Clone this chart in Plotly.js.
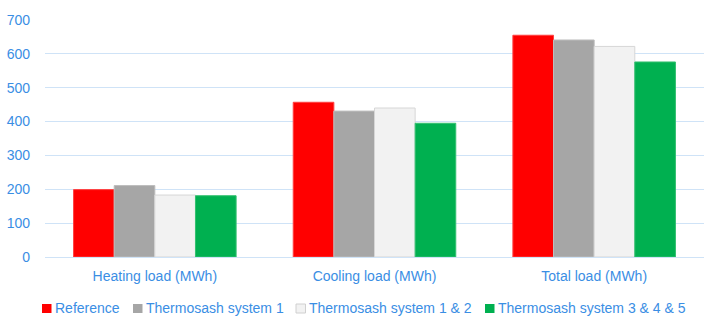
<!DOCTYPE html>
<html><head><meta charset="utf-8">
<script src="https://cdn.plot.ly/plotly-3.0.1.min.js"></script>
<style>html,body{margin:0;padding:0;background:#fff}#c{width:704px;height:318px}</style>
</head><body><div id="c"></div>
<script>
const categories = ["Heating load (MWh)", "Cooling load (MWh)", "Total load (MWh)"];
const seriesNames = ["Reference", "Thermosash system 1", "Thermosash system 1 & 2", "Thermosash system 3 & 4 & 5"];
const reference = [199, 457, 655];
const system1 = [211, 431, 641];
const system12 = [183, 440, 622];
const system345 = [181, 395, 576];
const yTicks = [0, 100, 200, 300, 400, 500, 600, 700];

const colors = ["#FF0000", "#A6A6A6", "#F2F2F2", "#00B050"];
const lineColors = ["#FF4040", "#BDBDBD", "#D6D6D6", "#33C070"];
const values = [reference, system1, system12, system345];
const traces = values.map((v, i) => ({
  type: "bar", x: categories, y: v, name: seriesNames[i], showlegend: false,
  marker: {color: colors[i], line: {color: lineColors[i], width: 1}}
}));

// plot area geometry (pixels)
const W = 704, H = 318, ML = 45, MR = 0, MT = 20, MB = 61;
const PW = W - ML - MR, PH = H - MT - MB;
const px = x => (x - ML) / PW;
const py = y => (H - MB - y) / PH;

// legend layout (pixel positions)
const legSquareX = [42, 133, 296, 485];
const legTextX = [55, 146, 309, 498];
const legTop = 304, legBottom = 313, legTextY = 307.5;

const blue = "#3A8EE4";
const grid = "#CFE3F7";
const shapes = seriesNames.map((n, i) => ({
  type: "rect", xref: "paper", yref: "paper",
  x0: px(legSquareX[i]), x1: px(legSquareX[i] + 9.5), y0: py(legBottom), y1: py(legTop),
  fillcolor: colors[i], line: {color: i === 2 ? "#D0D0D0" : colors[i], width: i === 2 ? 1 : 0}
}));
const annotations = seriesNames.map((n, i) => ({
  xref: "paper", yref: "paper", x: px(legTextX[i] - 1), y: py(legTextY),
  xanchor: "left", yanchor: "middle", text: n, showarrow: false, borderpad: 0,
  font: {size: 14, color: blue}
}));

const layout = {
  width: W, height: H,
  margin: {l: ML, r: MR, t: MT, b: MB, autoexpand: false},
  paper_bgcolor: "#fff", plot_bgcolor: "#fff",
  font: {family: "Liberation Sans, Arial, sans-serif", size: 14, color: blue},
  barmode: "group", bargap: 0.26, bargroupgap: 0,
  xaxis: {tickfont: {size: 14, color: blue}, showline: true, linecolor: grid, linewidth: 1.2, ticks: "", ticklabelstandoff: 6},
  yaxis: {range: [0, 700], tickvals: yTicks, ticktext: yTicks.map(String), showgrid: true, gridcolor: grid, gridwidth: 1.2,
          zeroline: false, tickfont: {size: 14, color: blue}, ticks: "", ticklabelstandoff: 14},
  showlegend: false,
  shapes: shapes,
  annotations: annotations
};
Plotly.newPlot("c", traces, layout, {displayModeBar: false, staticPlot: true});
</script></body></html>
